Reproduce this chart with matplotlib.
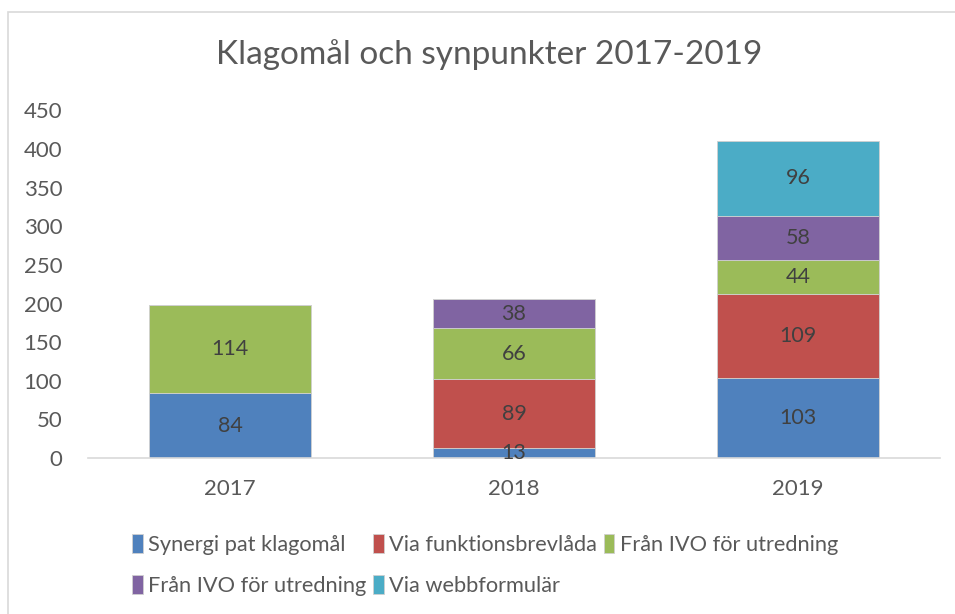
import matplotlib.pyplot as plt
from matplotlib.patches import Rectangle
import numpy as np

years = ['2017', '2018', '2019']
series_names = ['Synergi pat klagomål', 'Via funktionsbrevlåda', 'Från IVO för utredning',
                'Från IVO för utredning', 'Via webbformulär']
synergi = [84, 13, 103]
funktionsbrevlada = [0, 89, 109]
ivo_a = [114, 66, 44]
ivo_b = [0, 38, 58]
webbformular = [0, 0, 96]
colors = ['#4F81BD', '#C0504D', '#9BBB59', '#8064A2', '#4BACC6']

plt.rcParams['font.family'] = ['Lato', 'DejaVu Sans']

fig = plt.figure(figsize=(9.55, 6.14), dpi=100)
fig.patches.append(Rectangle((8 / 955, -0.1), 1.2, 1 - 12 / 614 + 0.1, transform=fig.transFigure,
                             fill=False, edgecolor='#D9D9D9', lw=1.2))
ax = fig.add_axes([88 / 955, 1 - 458 / 614, (940 - 88) / 955, (458 - 110.5) / 614])

x = np.arange(len(years))
bottom = np.zeros(len(years))
handles = []
for name, vals, c in zip(series_names, [synergi, funktionsbrevlada, ivo_a, ivo_b, webbformular], colors):
    vals = np.array(vals, dtype=float)
    bars = ax.bar(x, vals, 0.57, bottom=bottom, color=c, edgecolor='#D0D0D0', linewidth=0.6, label=name)
    handles.append(bars)
    for xi, v, b in zip(x, vals, bottom):
        if v > 0:
            ax.text(xi, b + v / 2, str(int(v)), ha='center', va='center', fontsize=15.5, color='#404040')
    bottom += vals

ax.set_xlim(-0.5, 2.5)
ax.set_ylim(0, 450)
ax.set_yticks(range(0, 451, 50))
ax.set_xticks(x)
ax.set_xticklabels(years)
ax.tick_params(axis='both', length=0, labelsize=16, colors='#595959')
ax.tick_params(axis='x', pad=15)
ax.tick_params(axis='y', pad=18.5)
for s in ['top', 'right', 'left']:
    ax.spines[s].set_visible(False)
ax.spines['bottom'].set_color('#D9D9D9')
ax.spines['bottom'].set_linewidth(1.2)

fig.text(489 / 955, 1 - 55 / 614, 'Klagomål och synpunkter 2017-2019', ha='center', va='center',
         fontsize=24, color='#595959')

# legend fills row by row in the reference, matplotlib fills by column
order = [0, 3, 1, 4, 2]
leg = fig.legend(handles=[handles[i] for i in order], labels=[series_names[i] for i in order],
                 loc='upper left', bbox_to_anchor=(112 / 955, 1 - 514 / 614),
                 ncol=3, frameon=False, fontsize=15.7, handlelength=0.5, handleheight=1.0,
                 handletextpad=0.25, columnspacing=0.3, labelspacing=0.92, labelcolor='#595959')

fig.savefig('out.png', dpi=100)
